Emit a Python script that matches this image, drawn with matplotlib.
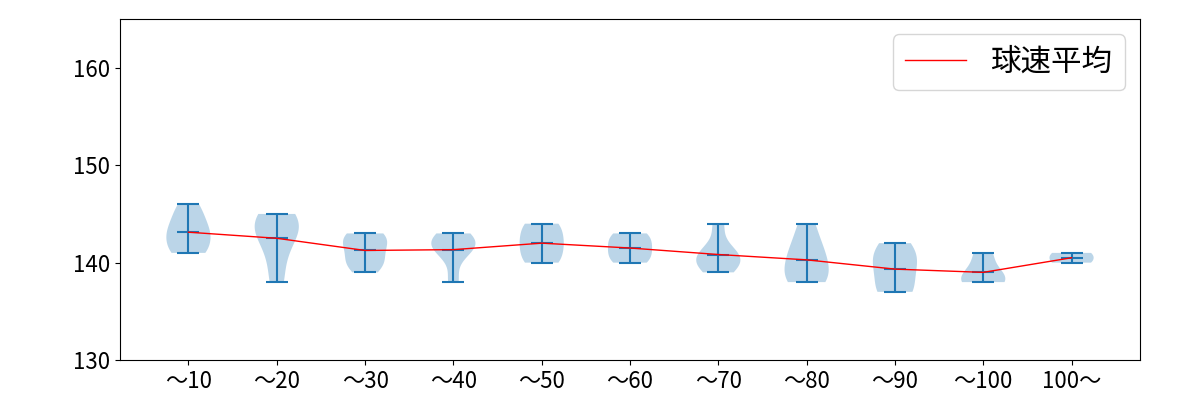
import numpy as np
import matplotlib
matplotlib.use("Agg")
import matplotlib.pyplot as plt

plt.rcParams['font.family'] = ['Noto Sans CJK JP', 'DejaVu Sans']

labels = ["〜10", "〜20", "〜30", "〜40", "〜50", "〜60", "〜70", "〜80", "〜90", "〜100", "100〜"]

# 球速 per pitch-count bucket
speed_10 = [141, 141, 142, 143, 143, 144, 145, 146]
speed_20 = [138, 141, 143, 144, 144, 145]
speed_30 = [139, 140, 140, 141, 142, 142, 143, 143]
speed_40 = [138, 141, 142, 142, 143, 142]
speed_50 = [140, 140, 141, 142, 142, 143, 144, 144]
speed_60 = [140, 140, 141, 141, 142, 142, 143, 143]
speed_70 = [139, 140, 140, 141, 141, 144]
speed_80 = [138, 138, 139, 140, 141, 142, 144]
speed_90 = [137, 137, 139, 140, 141, 142]
speed_100 = [138, 138, 139, 141]
speed_over = [140, 141]

data = [speed_10, speed_20, speed_30, speed_40, speed_50, speed_60,
        speed_70, speed_80, speed_90, speed_100, speed_over]
means = [np.mean(d) for d in data]
pos = np.arange(1, len(data) + 1)

fig = plt.figure(figsize=(12, 4), dpi=100)
ax = fig.add_subplot(111)
fig.subplots_adjust(left=0.1, right=0.95, top=0.952, bottom=0.1)

ax.violinplot(data, positions=pos, showmeans=True)
ax.plot(pos, means, color='red', linewidth=1, label='球速平均')

ax.set_ylim(130, 165)
ax.set_yticks([130, 140, 150, 160])
ax.set_xticks(pos)
ax.set_xticklabels(labels)
ax.tick_params(labelsize=16)
ax.legend(loc='upper right', fontsize=22)

plt.savefig("out.png")
